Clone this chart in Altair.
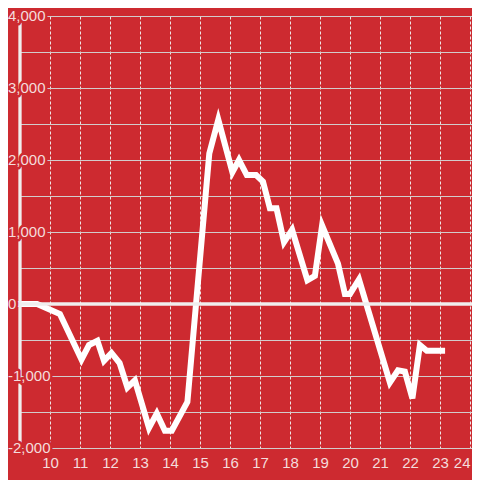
import altair as alt
import pandas as pd

BG = "#cd2a30"
LABEL = "#f4dcdc"
GRID = "#d2cccc"
DOT = "#eee4e4"
AXISLINE = "#f0eeee"
FONT = "Liberation Sans"

hours = [8.9, 9.57, 10.33, 11.05, 11.3, 11.58, 11.8, 12.05, 12.32, 12.58,
         12.83, 13.3, 13.56, 13.83, 14.06, 14.58, 15.31, 15.61, 16.08, 16.3,
         16.56, 16.87, 17.1, 17.33, 17.55, 17.8, 18.07, 18.58, 18.83, 19.07,
         19.6, 19.83, 20.0, 20.3, 21.33, 21.6, 21.83, 22.08, 22.33, 22.56,
         23.17]
values = [0, 0, -140, -770, -570, -510, -790, -680, -820, -1160,
          -1060, -1720, -1520, -1760, -1760, -1360, 2090, 2560, 1830, 2000,
          1790, 1790, 1700, 1330, 1330, 860, 1030, 330, 390, 1090,
          560, 140, 140, 340, -1090, -920, -940, -1310, -570, -650,
          -650]

x_ticks = [10, 11, 12, 13, 14, 15, 16, 17, 18, 19, 20, 21, 22, 23, 24]
y_grid = [-2000, -1500, -1000, -500, 0, 500, 1000, 1500, 2000, 2500,
          3000, 3500, 4000]
y_label_values = [-2000, -1000, 0, 1000, 2000, 3000, 4000]
y_label_texts = ["-2,000", "-1,000", "0", "1,000", "2,000", "3,000", "4,000"]
x_domain = [9, 24.067]
y_domain = [-2000, 4000]
zero_value = [0]
axis_hour = [9]

df = pd.DataFrame({"hour": hours, "value": values})
df_zero = pd.DataFrame({"value": zero_value})
df_axis = pd.DataFrame({"hour": axis_hour})
df_labels = pd.DataFrame({"value": y_label_values, "label": y_label_texts})

xs = alt.Scale(domain=x_domain, nice=False, zero=False)
ys = alt.Scale(domain=y_domain, nice=False, zero=False)

x_axis = alt.Axis(values=x_ticks, title=None, grid=True, gridDash=[3, 2],
                  gridColor=DOT, gridWidth=1, ticks=False, tickSize=0,
                  domain=True, domainColor=GRID, domainWidth=1,
                  labelFont=FONT, labelFontSize=15, labelColor=LABEL,
                  labelPadding=7, labelFlush=False, labelOverlap=False,
                  labelAlign={"condition": {"test": "datum.value >= 24", "value": "right"},
                              "value": "center"})
y_axis = alt.Axis(values=y_grid, title=None, grid=True, gridColor=GRID,
                  gridWidth=1, ticks=False, tickSize=0, labels=False,
                  domain=False)

line = alt.Chart(df).mark_line(color="white", strokeWidth=6, clip=False).encode(
    x=alt.X("hour:Q", scale=xs, axis=x_axis),
    y=alt.Y("value:Q", scale=ys, axis=y_axis),
)

zero = alt.Chart(df_zero).mark_rule(color=AXISLINE, strokeWidth=3.5).encode(
    y=alt.Y("value:Q", scale=ys, axis=y_axis)
)

yline = alt.Chart(df_axis).mark_rule(color=AXISLINE, strokeWidth=3.3).encode(
    x=alt.X("hour:Q", scale=xs, axis=x_axis)
)

halo = alt.Chart(df_labels).mark_text(
    align="left", baseline="middle", font=FONT, fontSize=15,
    fill=BG, stroke=BG, strokeWidth=5, strokeJoin="round"
).encode(
    y=alt.Y("value:Q", scale=ys, axis=y_axis),
    x=alt.value(-12),
    text="label:N",
)

labels = alt.Chart(df_labels).mark_text(
    align="left", baseline="middle", font=FONT, fontSize=15, color=LABEL
).encode(
    y=alt.Y("value:Q", scale=ys, axis=y_axis),
    x=alt.value(-12),
    text="label:N",
)

chart = alt.layer(line, zero, yline, halo, labels).properties(
    width=452,
    height=432,
    autosize=alt.AutoSizeParams(type="none"),
    padding={"left": 12, "top": 8, "right": 0, "bottom": 32},
    background=BG,
).configure_view(stroke=None).configure_axis(labelOverlap=False)

chart.save("out.html", embed_options={"renderer": "svg", "actions": False})
